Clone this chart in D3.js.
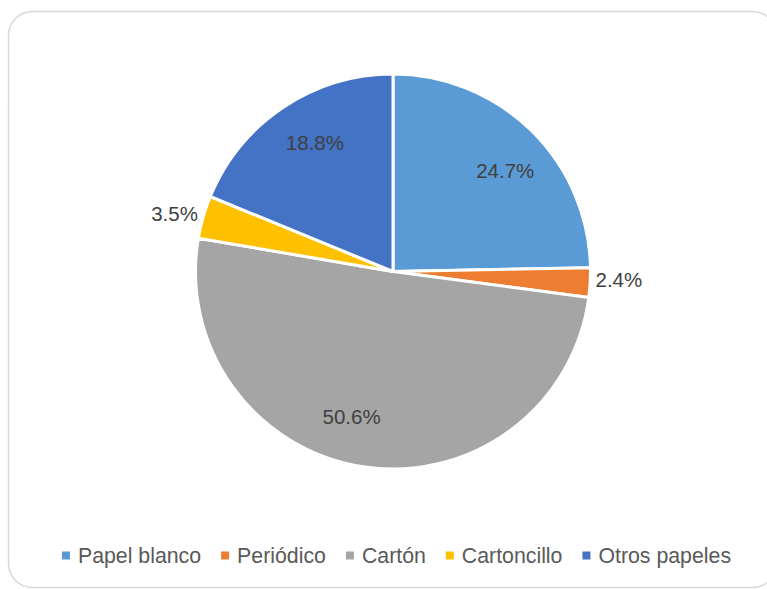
<!DOCTYPE html>
<html>
<head>
<meta charset="utf-8">
<script src="https://cdn.jsdelivr.net/npm/d3@7"></script>
<style>
  html, body { margin: 0; padding: 0; background: #fff; }
  svg { display: block; }
  text { font-family: "Liberation Sans", Arial, sans-serif; }
</style>
</head>
<body>
<svg id="chart" width="767" height="589"></svg>
<script>
const categories = ["Papel blanco", "Periódico", "Cartón", "Cartoncillo", "Otros papeles"];
const values = [24.7, 2.4, 50.6, 3.5, 18.8];
const colors = ["#5B9BD5", "#ED7D31", "#A5A5A5", "#FFC000", "#4472C4"];
const labels = ["24.7%", "2.4%", "50.6%", "3.5%", "18.8%"];
const outside = [false, true, false, true, false];

const svg = d3.select("#chart");

// chart border
svg.append("rect")
  .attr("x", 8.5).attr("y", 11.5)
  .attr("width", 768).attr("height", 576)
  .attr("rx", 24).attr("ry", 24)
  .attr("fill", "#fff")
  .attr("stroke", "#d9d9d9")
  .attr("stroke-width", 1.5);

const cx = 393, cy = 271.5, r = 197.5;
const data = categories.map((c, i) => ({ cat: c, value: values[i], color: colors[i], label: labels[i], out: outside[i] }));

const pie = d3.pie().value(d => d.value).sort(null);
const arcs = pie(data);
const arc = d3.arc().innerRadius(0).outerRadius(r);

const g = svg.append("g").attr("transform", `translate(${cx},${cy})`);
g.selectAll("path.slice").data(arcs).enter().append("path")
  .attr("class", "slice")
  .attr("d", arc)
  .attr("fill", d => d.data.color)
  .attr("stroke", "#fff")
  .attr("stroke-width", 3)
  .attr("stroke-linejoin", "round");

// label placement: inside labels sit a bit past the slice's mid-angle (best fit style)
function labelPos(d) {
  if (d.data.out) {
    const a = (d.startAngle + d.endAngle) / 2 - 0.02;
    const rr = 226;
    return [rr * Math.sin(a), -rr * Math.cos(a)];
  }
  const a = d.startAngle + (d.endAngle - d.startAngle) * 0.54;
  const rr = 151;
  return [rr * Math.sin(a), -rr * Math.cos(a)];
}

g.selectAll("text.lbl").data(arcs).enter().append("text")
  .attr("class", "lbl")
  .attr("transform", d => { const p = labelPos(d); return `translate(${p[0]},${p[1]})`; })
  .attr("text-anchor", "middle")
  .attr("dy", "0.36em")
  .attr("font-size", 20.5)
  .attr("fill", "#404040")
  .text(d => d.data.label);

// legend
const legend = svg.append("g");
const items = legend.selectAll("g.item").data(data).enter().append("g").attr("class", "item");
items.append("rect").attr("width", 8).attr("height", 8).attr("fill", d => d.color);
items.append("text").attr("x", 16).attr("y", 4).attr("dy", "0.36em")
  .attr("font-size", 21.3).attr("fill", "#595959").text(d => d.cat);
let x = 0;
items.each(function () {
  const tw = d3.select(this).select("text").node().getComputedTextLength();
  d3.select(this).attr("transform", `translate(${x},0)`);
  x += 16 + tw + 20;
});
const total = x - 20;
const lx = 396.5 - total / 2;
legend.attr("transform", `translate(${lx},551.5)`);
</script>
</body>
</html>
